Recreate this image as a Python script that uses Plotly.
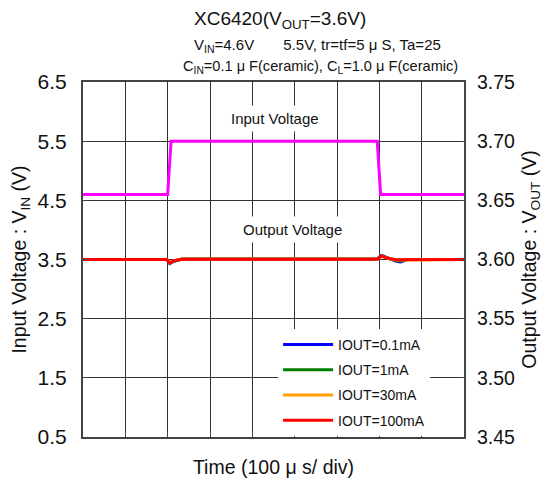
import plotly.graph_objects as go

# ---- data ----
t_in = [0, 2.0, 2.08, 6.95, 7.03, 9]
v_in = [4.6, 4.6, 5.5, 5.5, 4.6, 4.6]

t_out = [0, 1.98, 2.05, 2.15, 2.35, 2.6, 6.95, 7.05, 7.2, 7.4, 7.5, 7.65, 9]
v_out_01 = [3.600, 3.600, 3.5965, 3.5985, 3.6005, 3.6005, 3.6005, 3.6035, 3.6015, 3.5985, 3.5980, 3.600, 3.600]
v_out_1 = [3.600, 3.600, 3.5970, 3.5988, 3.6004, 3.6004, 3.6004, 3.6030, 3.6012, 3.5990, 3.5988, 3.600, 3.600]
v_out_30 = [3.600, 3.600, 3.5972, 3.5990, 3.6004, 3.6004, 3.6004, 3.6028, 3.6010, 3.5995, 3.5995, 3.600, 3.600]
v_out_100 = [3.600, 3.600, 3.5970, 3.5990, 3.6002, 3.6002, 3.6002, 3.6030, 3.6010, 3.5998, 3.5998, 3.600, 3.600]

out_names = ["IOUT=0.1mA", "IOUT=1mA", "IOUT=30mA", "IOUT=100mA"]
out_colors = ["#0000ff", "#008000", "#ffa000", "#ff0000"]
out_values = [v_out_01, v_out_1, v_out_30, v_out_100]

left_ticks = [0.5, 1.5, 2.5, 3.5, 4.5, 5.5, 6.5]
right_ticks = [3.45, 3.50, 3.55, 3.60, 3.65, 3.70, 3.75]

FONT = "Liberation Sans, Arial, sans-serif"
# the page body has an 8px margin, so the figure is 8px smaller than the window
OFF = 8
W, H = 550 - OFF, 483 - OFF
ML, MT = 83 - OFF, 82 - OFF
MR = W - ML - 381
MB = H - MT - 355

fig = go.Figure()
fig.add_trace(go.Scatter(x=t_in, y=v_in, mode="lines", line=dict(color="#ff00ff", width=3),
                         showlegend=False, yaxis="y"))
for i, (name, col, vals) in enumerate(zip(out_names, out_colors, out_values)):
    fig.add_trace(go.Scatter(x=t_out, y=vals, mode="lines", name=name, legendgroup=f"g{i}",
                             line=dict(color=col, width=3), yaxis="y2"))

fig.update_layout(
    width=W, height=H,
    margin=dict(l=ML, r=MR, t=MT, b=MB),
    paper_bgcolor="white", plot_bgcolor="white",
    font=dict(family=FONT, color="#111", size=19),
    xaxis=dict(range=[0, 9], dtick=1, showticklabels=False, showgrid=True, automargin=False,
               gridcolor="#333", gridwidth=1, showline=True, linecolor="#444",
               linewidth=2, mirror=True, ticks="inside", ticklen=5, tickcolor="#444",
               zeroline=False,
               title=dict(text="Time (100 μ s/ div)", font=dict(size=19.5), standoff=22)),
    yaxis=dict(range=[0.5, 6.5], tickvals=left_ticks, ticktext=[f"{v:.1f}" for v in left_ticks],
               showgrid=True, gridcolor="#333", gridwidth=1, showline=True, linecolor="#444",
               linewidth=2, ticks="inside", ticklen=5, tickcolor="#444", zeroline=False,
               automargin=False, tickfont=dict(size=21), ticklabelstandoff=10,
               title=dict(text="Input Voltage : V<sub>IN</sub> (V)", font=dict(size=19.5), standoff=12)),
    yaxis2=dict(range=[3.45, 3.75], tickvals=right_ticks, ticktext=[f"{v:.2f}" for v in right_ticks],
                overlaying="y", side="right", showgrid=False, showline=True, linecolor="#444",
                linewidth=2, ticks="inside", ticklen=5, tickcolor="#444", zeroline=False,
                automargin=False, tickfont=dict(size=19.5), ticklabelstandoff=7,
                title=dict(text="Output Voltage : V<sub>OUT</sub> (V)", font=dict(size=19.5), standoff=8)),
    legend=dict(x=0.512, y=0.003, xanchor="left", yanchor="bottom", bgcolor="white",
                font=dict(size=14), borderwidth=0, tracegroupgap=4, itemwidth=50),
    showlegend=True,
)

fig.add_annotation(x=4.54, y=5.89, xref="x", yref="y", text="Input Voltage", showarrow=False,
                   font=dict(size=15), bgcolor="white", borderpad=4)
fig.add_annotation(x=4.96, y=4.01, xref="x", yref="y", text="Output Voltage", showarrow=False,
                   font=dict(size=15), bgcolor="white", borderpad=4)

# header texts (window pixel positions, converted to paper coords below)
header = [
    (280, 20, "XC6420(V<sub>OUT</sub>=3.6V)", 19),
    (317, 46, "V<sub>IN</sub>=4.6V&nbsp;&nbsp;&nbsp;&nbsp;&nbsp;&nbsp;&nbsp;5.5V, tr=tf=5 μ S, Ta=25", 15),
    (320, 67, "C<sub>IN</sub>=0.1 μ F(ceramic), C<sub>L</sub>=1.0 μ F(ceramic)", 14.6),
]
pw, ph = W - ML - MR, H - MT - MB
for px, py, txt, sz in header:
    fig.add_annotation(x=(px - OFF - ML) / pw, y=(H - (py - OFF) - MB) / ph,
                       xref="paper", yref="paper", xanchor="center", yanchor="middle",
                       text=txt, showarrow=False, font=dict(size=sz))

fig.write_html("out.html")
